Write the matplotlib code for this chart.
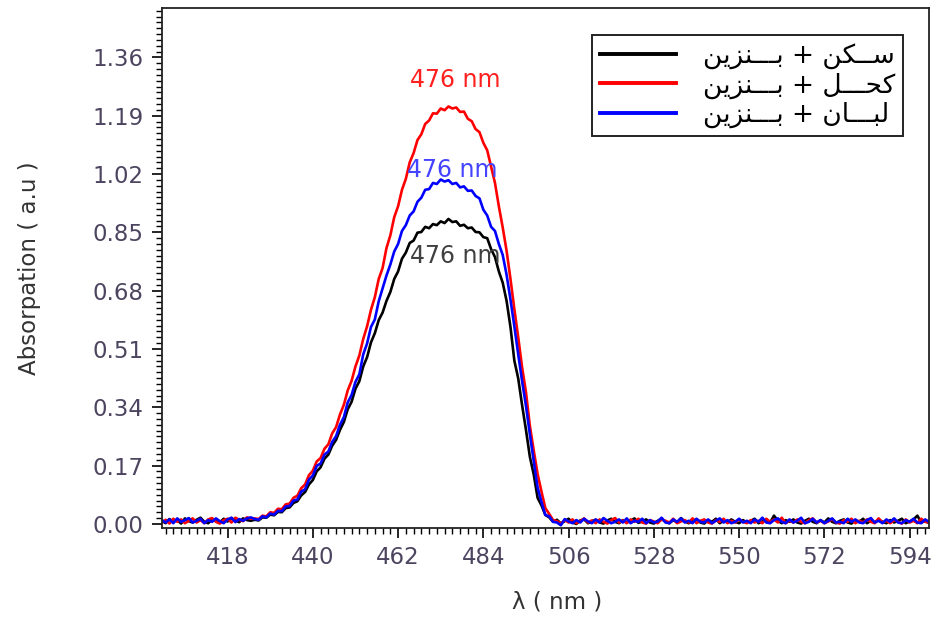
"""Absorption spectra of three samples mixed with benzine."""

import numpy as np
import matplotlib
matplotlib.use("Agg")
import matplotlib.pyplot as plt
from matplotlib.ticker import MultipleLocator, FormatStrFormatter

# wavelength grid, 1 nm steps
wavelength = np.arange(401, 600)

# --- black: sakan + benzine
black_left = [0.010, 0.002, 0.014, 0.006, 0.011, 0.001, 0.016, 0.008, 0.004, 0.012,
              0.018, 0.006, 0.002, 0.013, 0.009, 0.004, 0.015, 0.007, 0.017, 0.010,
              0.005, 0.016, 0.011, 0.009]
black_peak = [0.012, 0.010, 0.019, 0.018, 0.027, 0.025, 0.035, 0.034, 0.046, 0.048,
              0.061, 0.066, 0.083, 0.093, 0.115, 0.128, 0.153, 0.165, 0.190, 0.202,
              0.228, 0.245, 0.274, 0.297, 0.334, 0.356, 0.394, 0.416, 0.459, 0.486,
              0.529, 0.556, 0.594, 0.616, 0.650, 0.676, 0.714, 0.736, 0.773, 0.791,
              0.819, 0.826, 0.849, 0.851, 0.866, 0.862, 0.874, 0.871, 0.882, 0.877,
              0.889, 0.880, 0.882, 0.869, 0.872, 0.862, 0.864, 0.851, 0.850, 0.836,
              0.833, 0.801, 0.778, 0.736, 0.703, 0.650, 0.574, 0.476, 0.424, 0.346,
              0.274, 0.196, 0.144, 0.076, 0.054, 0.026, 0.019, 0.006]
black_right = [0.012, 0.001, 0.008, 0.015, 0.004, 0.000, 0.010, 0.013, 0.002, 0.008,
               0.012, 0.004, 0.001, 0.010, 0.015, 0.006, 0.002, 0.011, 0.004, 0.009,
               0.016, 0.003, 0.007, 0.013, 0.004, 0.001, 0.009, 0.015, 0.006, 0.002,
               0.011, 0.004, 0.017, 0.007, 0.002, 0.009, 0.013, 0.004, 0.001, 0.011,
               0.006, 0.015, 0.002, 0.009, 0.004, 0.013, 0.006, 0.002, 0.011, 0.004,
               0.009, 0.015, 0.002, 0.007, 0.013, 0.004, 0.024, 0.009, 0.002, 0.011,
               0.006, 0.013, 0.004, 0.001, 0.009, 0.015, 0.006, 0.002, 0.011, 0.004,
               0.016, 0.006, 0.002, 0.009, 0.013, 0.004, 0.001, 0.011, 0.006, 0.015,
               0.002, 0.009, 0.004, 0.013, 0.006, 0.002, 0.011, 0.004, 0.009, 0.015,
               0.002, 0.007, 0.013, 0.024, 0.004, 0.009, 0.002]

# --- red: kohl + benzine
red_left = [0.003, 0.012, 0.001, 0.015, 0.006, 0.013, 0.002, 0.009, 0.016, 0.004,
            0.011, 0.002, 0.013, 0.017, 0.006, 0.001, 0.011, 0.015, 0.004, 0.018,
            0.012, 0.008, 0.019, 0.015]
red_peak = [0.016, 0.014, 0.024, 0.022, 0.034, 0.032, 0.044, 0.043, 0.057, 0.059,
            0.076, 0.082, 0.104, 0.115, 0.142, 0.155, 0.182, 0.192, 0.219, 0.232,
            0.264, 0.282, 0.319, 0.347, 0.389, 0.417, 0.459, 0.491, 0.539, 0.576,
            0.624, 0.661, 0.714, 0.746, 0.804, 0.841, 0.894, 0.926, 0.974, 1.006,
            1.054, 1.081, 1.119, 1.136, 1.166, 1.176, 1.197, 1.196, 1.211, 1.206,
            1.217, 1.211, 1.214, 1.201, 1.202, 1.181, 1.174, 1.151, 1.142, 1.111,
            1.089, 1.041, 0.994, 0.926, 0.864, 0.796, 0.714, 0.626, 0.544, 0.456,
            0.384, 0.286, 0.214, 0.146, 0.094, 0.046, 0.029, 0.011]
red_right = [0.008, 0.001, 0.011, 0.004, 0.013, 0.002, 0.008, 0.016, 0.004, 0.010,
             0.002, 0.013, 0.006, 0.001, 0.011, 0.017, 0.004, 0.010, 0.002, 0.013,
             0.006, 0.015, 0.004, 0.001, 0.011, 0.007, 0.002, 0.013, 0.009, 0.004,
             0.015, 0.002, 0.007, 0.011, 0.004, 0.016, 0.002, 0.009, 0.013, 0.004,
             0.001, 0.011, 0.006, 0.015, 0.002, 0.009, 0.004, 0.013, 0.006, 0.002,
             0.011, 0.004, 0.009, 0.002, 0.015, 0.006, 0.013, 0.004, 0.018, 0.002,
             0.009, 0.004, 0.013, 0.006, 0.002, 0.011, 0.016, 0.004, 0.009, 0.002,
             0.007, 0.013, 0.004, 0.001, 0.011, 0.006, 0.015, 0.002, 0.009, 0.004,
             0.013, 0.006, 0.002, 0.016, 0.004, 0.009, 0.002, 0.011, 0.006, 0.001,
             0.013, 0.004, 0.009, 0.002, 0.015, 0.006, 0.004]

# --- blue: luban + benzine
blue_left = [0.011, 0.004, 0.013, 0.002, 0.016, 0.006, 0.011, 0.017, 0.004, 0.009,
             0.015, 0.002, 0.011, 0.006, 0.016, 0.008, 0.002, 0.013, 0.018, 0.005,
             0.014, 0.009, 0.016, 0.019]
blue_peak = [0.014, 0.012, 0.022, 0.019, 0.030, 0.027, 0.038, 0.037, 0.051, 0.052,
             0.068, 0.071, 0.094, 0.101, 0.129, 0.141, 0.169, 0.176, 0.202, 0.211,
             0.239, 0.256, 0.289, 0.311, 0.354, 0.376, 0.414, 0.436, 0.494, 0.526,
             0.574, 0.596, 0.649, 0.686, 0.724, 0.756, 0.794, 0.816, 0.854, 0.871,
             0.899, 0.911, 0.939, 0.951, 0.974, 0.976, 0.994, 0.991, 1.004, 0.998,
             1.002, 0.991, 0.994, 0.981, 0.984, 0.971, 0.972, 0.956, 0.949, 0.916,
             0.899, 0.866, 0.854, 0.816, 0.784, 0.726, 0.654, 0.576, 0.494, 0.416,
             0.344, 0.261, 0.184, 0.106, 0.064, 0.026, 0.022, 0.006]
blue_right = [0.004, -0.004, 0.014, 0.007, 0.002, 0.011, 0.004, 0.015, 0.007, 0.002,
              0.013, 0.004, 0.017, 0.009, 0.002, 0.006, 0.013, 0.004, 0.016, 0.002,
              0.009, 0.006, 0.015, 0.002, 0.011, 0.004, 0.007, 0.018, 0.004, 0.002,
              0.013, 0.006, 0.016, 0.004, 0.009, 0.002, 0.015, 0.006, 0.004, 0.013,
              0.002, 0.009, 0.016, 0.004, 0.011, 0.002, 0.006, 0.015, 0.004, 0.009,
              0.002, 0.013, 0.006, 0.018, 0.004, 0.002, 0.011, 0.016, 0.006, 0.002,
              0.013, 0.004, 0.009, 0.018, 0.002, 0.006, 0.015, 0.004, 0.011, 0.002,
              0.009, 0.016, 0.004, 0.006, 0.002, 0.015, 0.006, 0.013, 0.004, 0.002,
              0.011, 0.017, 0.004, 0.009, 0.002, 0.013, 0.006, 0.016, 0.004, 0.002,
              0.011, 0.006, 0.015, 0.004, 0.002, 0.013, 0.006]

black_abs = black_left + black_peak + black_right
red_abs = red_left + red_peak + red_right
blue_abs = blue_left + blue_peak + blue_right

# legend labels (Arabic, pre-shaped presentation forms in visual order)
labels = ["ﻦﻳﺰﻨـــﺑ + ﻦﻜــﺳ",
          "ﻦﻳﺰﻨـــﺑ + ﻞـــﺤﻛ",
          "ﻦﻳﺰﻨـــﺑ + ﻥﺎـــﺒﻟ"]
colors = ["#000000", "#ff0000", "#0000ff"]
series = [black_abs, red_abs, blue_abs]

peak_label = "476 nm"
peak_x = [476.7, 476.7, 475.9]
peak_y = [0.781, 1.294, 1.032]
peak_colors = ["#404040", "#ff2020", "#4444ff"]

y_ticks = [0.00, 0.17, 0.34, 0.51, 0.68, 0.85, 1.02, 1.19, 1.36]
x_ticks = [418, 440, 462, 484, 506, 528, 550, 572, 594]

plt.rcParams["font.family"] = ["DejaVu Sans"]

fig = plt.figure(figsize=(9.32, 6.22), dpi=100)
ax = fig.add_axes([161.7 / 932, 1 - 528 / 622, (929 - 161.7) / 932, (528 - 8) / 622])

for vals, col, lab in zip(series, colors, labels):
    ax.plot(wavelength, vals, color=col, lw=1.9, label=lab)

for px, py, pc in zip(peak_x, peak_y, peak_colors):
    ax.text(px, py, peak_label, color=pc, fontsize=17, ha="center", va="center")

ax.set_xlim(401, 599)
ax.set_ylim(-0.012, 1.504)
ax.set_xticks(x_ticks)
ax.set_yticks(y_ticks)
ax.yaxis.set_major_formatter(FormatStrFormatter("%.2f"))
ax.xaxis.set_minor_locator(MultipleLocator(2))
ax.yaxis.set_minor_locator(MultipleLocator(0.017))
ax.tick_params(which="major", direction="out", length=7, width=1.2,
               labelsize=16.5, labelcolor="#4d4560", pad=6)
ax.tick_params(which="minor", direction="out", length=4, width=1.0)
ax.tick_params(top=False, right=False, which="both")
for sp in ax.spines.values():
    sp.set_linewidth(1.3)
    sp.set_color("#222222")

ax.set_ylabel("Absorpation ( a.u )", fontsize=16.5, color="#333333")
ax.yaxis.set_label_coords(-0.157, 0.5)
ax.set_xlabel("λ ( nm )", fontsize=16.5, color="#333333")
ax.xaxis.set_label_coords(0.515, -0.12)

leg = ax.legend(loc="upper right", bbox_to_anchor=(903 / 932, 1 - 35 / 622),
                bbox_transform=fig.transFigure, borderaxespad=0,
                fontsize=19, handlelength=2.9, handletextpad=1.0,
                labelspacing=0.12, fancybox=False, framealpha=1,
                edgecolor="#222222", borderpad=0.3)
leg.get_frame().set_linewidth(1.4)
for line in leg.get_lines():
    line.set_linewidth(2.8)

fig.savefig("out.png", dpi=100)
plt.close(fig)
